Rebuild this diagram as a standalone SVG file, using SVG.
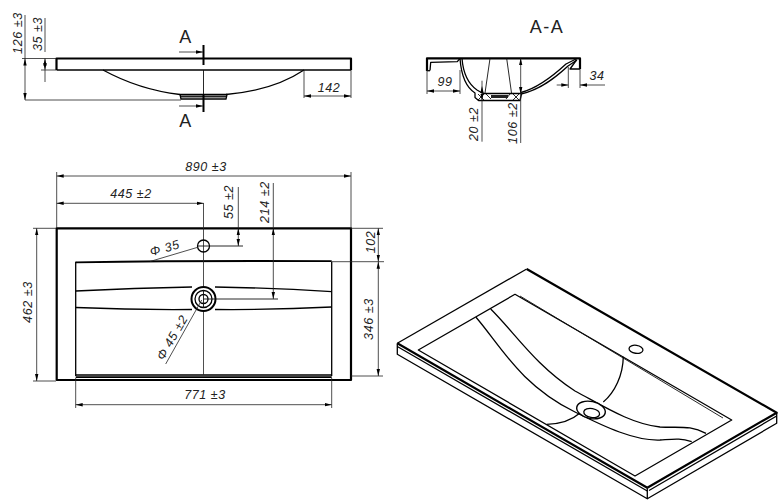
<svg xmlns="http://www.w3.org/2000/svg" width="779" height="502" viewBox="0 0 779 502">
<style>
text{font-family:"Liberation Sans",Arial,sans-serif;font-size:12.5px;letter-spacing:.6px;font-style:italic;fill:#222;text-anchor:middle;dominant-baseline:middle}
text.sec{font-size:18px;font-style:normal;letter-spacing:1.5px}
g{fill:none;stroke-linecap:butt;stroke-linejoin:round}
.o{stroke:#000;stroke-width:2.2;fill:none}
.m{stroke:#000;stroke-width:1.3;fill:none}
.t{stroke:#111;stroke-width:.9;fill:none}
.d{stroke:#222;stroke-width:.8;fill:none}
.a{stroke:#222;stroke-width:.8;fill:none;marker-start:url(#ah);marker-end:url(#ah)}
.e{stroke:#222;stroke-width:.8;fill:none;marker-end:url(#ah)}
</style>
<defs>
<marker id="ah" markerUnits="userSpaceOnUse" markerWidth="8" markerHeight="5" refX="7" refY="2.5" orient="auto-start-reverse"><path d="M0 .8L7 2.5L0 4.2Z" fill="#000"/></marker>
</defs>
<rect width="779" height="502" fill="#fff"/>

<g id="front-view">
<path class="o" d="M56.5 70V58.5H351V70"/>
<path class="m" d="M56.5 70H351"/>
<path class="m" d="M103 70C125 82 150 91 180 94.5M226 94.5C255 92 283 84 304 70"/>
<path class="m" d="M180 94.5L181 99H226L227 94.5Z"/>
<path d="M181 96.5H226" stroke="#222" stroke-width="2.2"/>
<path class="t" d="M203.5 70V94"/>
<path d="M203.5 45V65M203.5 94V112" stroke="#000" stroke-width="2"/>
<path class="e" d="M179 52H203"/>
<path class="e" d="M179 106H203"/>
<text class="sec" x="186" y="38">A</text>
<text class="sec" x="186" y="122">A</text>
<path class="d" d="M22 58.5H56M25 100H181"/>
<path class="d" d="M25 15V58.5"/>
<path class="a" d="M25 58.5V100"/>
<path class="d" d="M41 70H56"/>
<path class="d" d="M45 18V52M45 70V82"/>
<path class="a" d="M45 58.5V70"/>
<path class="d" d="M304 70V98M351 70V98"/>
<path class="a" d="M304 96H351"/>
<text transform="translate(19 33) rotate(-90)">126 ±3</text>
<text transform="translate(39 34) rotate(-90)">35 ±3</text>
<text x="329" y="89">142</text>
</g>

<g id="section-a-a">
<text class="sec" x="547" y="28">A-A</text>
<path class="o" d="M427 71V58.3H580V69"/>
<path class="m" d="M430 70.5L430.7 62.3L457.3 61.7L460 58.5"/>
<path class="m" d="M427 70.7H430"/>
<path class="m" d="M460 58.5C461 72 464 86 475 93V97.5L478.5 100.5H520L521.5 94"/>
<path class="m" d="M462 58.5C463 71 467 83 477 90L483 93.5H521"/>
<path class="m" d="M521 94C540 90 555 78 568 66L577 60"/>
<path class="m" d="M521 92.5C538 88 553 76 566 64L577 58.5"/>
<path class="m" d="M580 69H570L576.5 60"/>
<path class="t" d="M490 58.5L485 93M506.7 58.5L511.5 93"/>
<path class="t" d="M478 94L484 100M484 94L478 100M513 94L519 100M519 94L513 100M486 94L491 99M510 94L506 99"/>
<path d="M491 96.5H508" stroke="#222" stroke-width="3"/>
<path class="d" d="M427 70V94M460 70V94"/>
<path class="a" d="M427 91H460"/>
<path class="d" d="M568.3 67V88M580 69V88"/>
<path class="e" d="M556.7 85H568.3"/>
<path class="e" d="M605 85H580"/>
<path class="d" d="M482 80.7V86"/>
<path class="a" d="M482 86V100.5"/>
<path class="d" d="M482 100.5V141.7"/>
<path class="a" d="M520.7 58.3V94"/>
<path class="d" d="M520.7 94V143"/>
<text x="445" y="83">99</text>
<text x="597" y="77">34</text>
<text transform="translate(475 124) rotate(-90)">20 ±2</text>
<text transform="translate(514 123) rotate(-90)">106 ±2</text>
</g>

<g id="plan-view">
<path class="o" d="M56.7 228.3H351V380H56.7Z"/>
<path class="m" d="M75.7 376V261.7M331.7 261.7V376M75.7 375H331.7"/>
<path d="M75.7 377.2H331.7" stroke="#000" stroke-width="1.8"/>
<path d="M75.7 262.3Q200 260.5 331.7 261.2" stroke="#000" stroke-width="1.8" fill="none"/>
<path class="m" d="M75.7 291Q135 288 192 287M215 287Q275 288 331.7 291.7"/>
<path class="m" d="M75.7 307.5Q135 310 192 309.5M215 309.5Q275 310 331.7 307"/>
<path class="d" d="M203.5 203V286M203.5 312V375"/>
<circle class="m" cx="203.5" cy="246" r="6"/>
<path class="t" d="M197.5 246H243"/>
<circle cx="203.5" cy="299" r="12" stroke="#000" stroke-width="2" fill="#fff"/>
<circle class="m" cx="203.5" cy="299" r="8.5"/>
<circle class="m" cx="203.5" cy="299" r="4.5"/>
<path class="t" d="M203.5 299H278M203.5 290V308"/>
<path class="d" d="M197 247.5L150 261.5"/>
<path class="d" d="M201.7 300L165.7 364"/>
<path class="d" d="M56.7 172V228M351 172V228"/>
<path class="a" d="M56.7 176H351"/>
<path class="a" d="M56.7 203.3H203.5"/>
<path class="d" d="M238.3 187V228"/>
<path class="a" d="M238.3 228.3V246"/>
<path class="d" d="M273.3 183V228"/>
<path class="a" d="M273.3 228.3V299"/>
<path class="d" d="M351 228.3H383M331.7 261.7H384M351 376H383M33 228.3H56M33 381H56"/>
<path class="a" d="M378.3 228.3V261.7"/>
<path class="a" d="M378.3 261.7V376"/>
<path class="a" d="M36.7 228.3V381"/>
<path class="d" d="M75.7 378V408M331.7 378V408"/>
<path class="a" d="M75.7 404.7H331.7"/>
<text x="206" y="168">890 ±3</text>
<text x="131" y="195">445 ±2</text>
<text transform="translate(230 202) rotate(-90)">55 ±2</text>
<text transform="translate(266 202) rotate(-90)">214 ±2</text>
<text transform="translate(372 242) rotate(-90)">102</text>
<text transform="translate(370 319) rotate(-90)">346 ±3</text>
<text transform="translate(29 302) rotate(-90)">462 ±3</text>
<text x="205" y="396">771 ±3</text>
<text transform="translate(165 249) rotate(-16)">Φ 35</text>
<text transform="translate(173 338) rotate(-60)">Φ 45 ±2</text>
</g>

<g id="isometric-view">
<path class="m" d="M397.3 343.3L526.7 269"/>
<path class="o" d="M526.7 269L776.7 412.7L647.3 487.7"/>
<path class="o" d="M397.3 343.3L647.3 487.7"/>
<path class="m" d="M397.3 343.3V354.3L647.3 498.7V487.7"/>
<path class="m" d="M647.3 498.7L776.7 423.3V412.7"/>
<path class="m" d="M397.3 346.5L647.3 491"/>
<path class="m" d="M649 490.5L776.7 416"/>
<path class="m" d="M418.3 350L515 294.3L731.7 420L635 476Z"/>
<path class="t" d="M520 296L723 418"/>
<path class="m" d="M476 317.3C500 345 520 385 575 412C605 427 635 441 660 440C675 439 680 438 691.7 441.7"/>
<path class="m" d="M490.7 309C515 333 535 365 575 391C600 404 630 424 660 427C680 428 690 425 706 433.3"/>
<path class="m" d="M623.3 356.7C623 375 615 392 603.3 402M546.7 424.3C560 424 572 420 580 413"/>
<ellipse cx="591" cy="410" rx="14.5" ry="8.5" transform="rotate(12 591 410)" stroke="#000" stroke-width="1.4" fill="#fff"/>
<ellipse cx="591.7" cy="413" rx="8" ry="4.5" transform="rotate(10 591.7 413)" stroke="#000" stroke-width="1.3" fill="#fff"/>
<ellipse cx="636" cy="349.3" rx="7" ry="4" transform="rotate(8 636 349.3)" stroke="#000" stroke-width="1.3" fill="#fff"/>
</g>
</svg>
